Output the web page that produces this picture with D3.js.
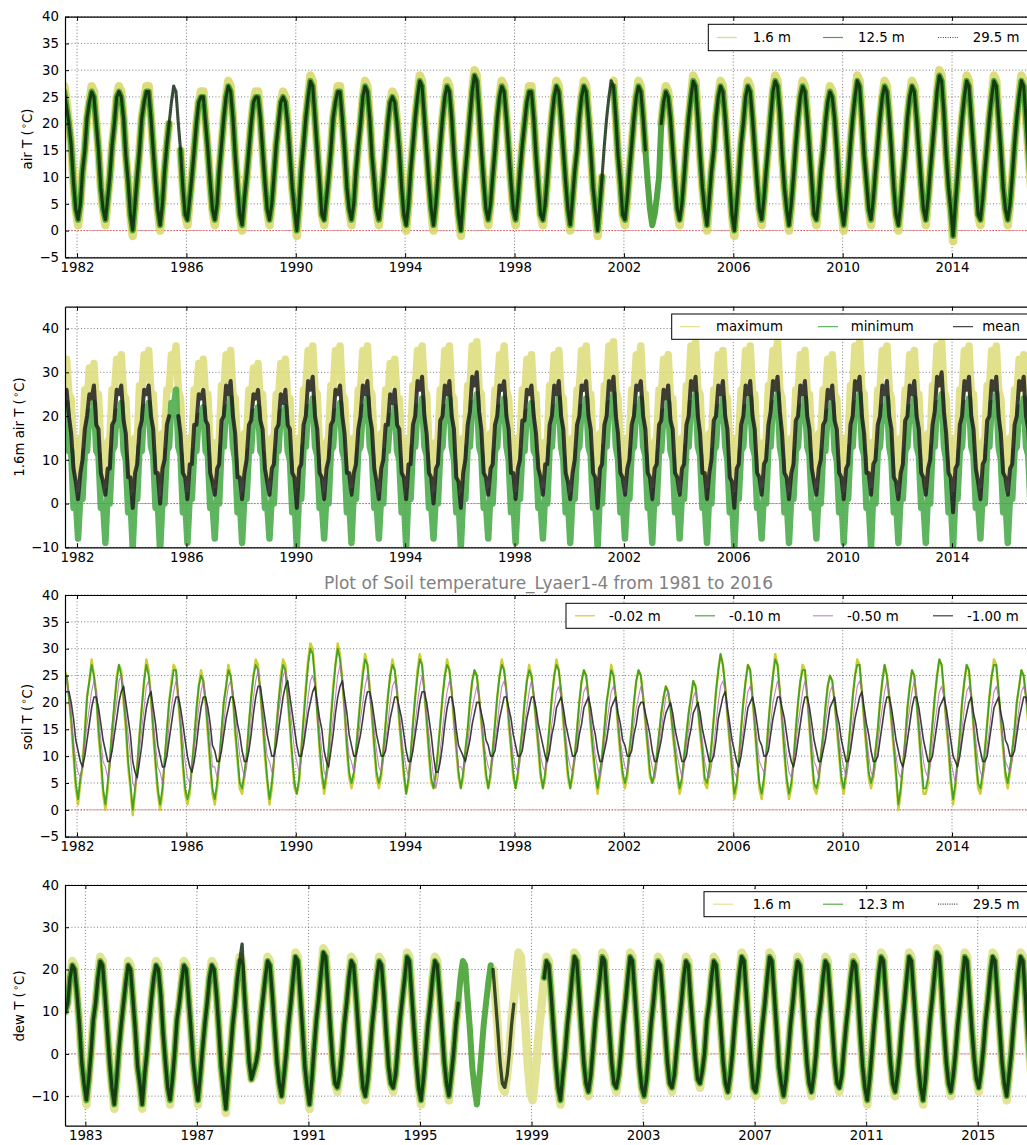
<!DOCTYPE html>
<html>
<head>
<meta charset="utf-8">
<script src="https://cdn.jsdelivr.net/npm/d3@7"></script>
<style>
  body { margin: 0; background: #fff; }
  svg { display: block; font-family: "DejaVu Sans", sans-serif; }
</style>
</head>
<body>
<svg id="chart" width="1027" height="1145"></svg>
<script>
// ---------------------------------------------------------------------------
// Monthly station series, one row per calendar year.
// Panels 1-3 start in July 1981, panel 4 (dew point) starts in April 1982.
// null marks months with no record.
// ---------------------------------------------------------------------------

// Panel 1: air temperature at three tower levels (deg C)
const air16 = [
  [27, 24, 20, 16, 9, 4],
  [1, 5, 11, 15, 21, 24, 27, 26, 20, 15, 8, 4],
  [1, 6, 10, 16, 20, 25, 27, 26, 21, 14, 9, 3],
  [-1, 5, 10, 15, 21, 24, 27, 27, 21, 15, 9, 4],
  [0, 5, 11, 16, 20, null, null, null, null, 15, 8, 3],
  [1, 6, 10, 15, 20, 24, 26, 26, 20, 15, 9, 4],
  [1, 5, 11, 16, 21, 25, 28, 27, 21, 14, 8, 3],
  [0, 6, 10, 15, 20, 24, 26, 26, 21, 15, 9, 4],
  [1, 5, 10, 16, 20, 24, 26, 25, 20, 14, 8, 4],
  [-1, 5, 11, 16, 21, 25, 29, 28, 21, 15, 9, 3],
  [1, 6, 10, 15, 21, 24, 27, 27, 21, 15, 8, 4],
  [1, 5, 11, 16, 20, 25, 28, 27, 21, 14, 9, 4],
  [1, 6, 10, 15, 20, 24, 26, 25, 20, 15, 8, 3],
  [0, 5, 11, 16, 21, 25, 29, 28, 21, 15, 9, 4],
  [0, 5, 10, 16, 21, 25, 28, 27, 21, 14, 8, 3],
  [-1, 6, 11, 16, 21, 26, 30, 29, 22, 15, 9, 4],
  [1, 5, 10, 15, 21, 25, 28, 27, 21, 15, 9, 4],
  [1, 6, 11, 16, 20, 24, 27, 27, 21, 14, 8, 3],
  [1, 5, 10, 16, 21, 25, 28, 27, 21, 15, 9, 4],
  [0, 6, 11, 15, 21, 25, 28, 27, 21, 15, 8, 4],
  [-1, 5, 10, null, null, null, null, 28, 21, 14, 9, 3],
  [1, 6, 11, 16, 21, 25, 28, 27, 21, 15, null, null],
  [null, null, null, null, 20, 24, 27, 26, 21, 15, 9, 4],
  [1, 5, 10, 16, 21, 25, 29, 28, 21, 14, 8, 4],
  [0, 6, 11, 15, 21, 25, 28, 27, 21, 15, 9, 3],
  [-1, 5, 10, 16, 20, 25, 28, 27, 21, 15, 9, 4],
  [1, 6, 11, 16, 21, 26, 29, 28, 22, 14, 8, 4],
  [0, 5, 10, 16, 21, 25, 28, 27, 21, 15, 9, 3],
  [1, 6, 11, 15, 20, 24, 27, 26, 21, 15, 8, 4],
  [0, 5, 10, 16, 21, 25, 29, 28, 21, 14, 9, 4],
  [1, 6, 11, 16, 21, 25, 28, 27, 21, 15, 8, 3],
  [0, 5, 10, 15, 21, 25, 28, 27, 21, 15, 9, 4],
  [1, 6, 11, 16, 21, 26, 30, 29, 22, 14, 8, 4],
  [-2, 5, 10, 16, 21, 25, 29, 28, 21, 15, 9, 3],
  [1, 6, 11, 16, 21, 25, 29, 28, 21, 15, 8, 4],
  [1, 5, 10, 16, 21, 25, 29, 28, 21, 15, 9, 4]
];
const air125 = [
  [26, 23, 20, 16, 9, 4],
  [2, 5, 11, 15, 21, 24, 26, 25, 20, 15, 8, 4],
  [2, 6, 10, 16, 20, 25, 26, 25, 21, 14, 9, 3],
  [0, 5, 10, 15, 21, 24, 26, 26, 21, 15, 9, 4],
  [1, 5, 11, 16, 20, null, null, null, null, 15, 8, 3],
  [2, 6, 10, 15, 20, 24, 25, 25, 20, 15, 9, 4],
  [2, 5, 11, 16, 21, 25, 27, 26, 21, 14, 8, 3],
  [1, 6, 10, 15, 20, 24, 25, 25, 21, 15, 9, 4],
  [2, 5, 10, 16, 20, 24, 25, 24, 20, 14, 8, 4],
  [0, 5, 11, 16, 21, 25, 28, 27, 21, 15, 9, 3],
  [2, 6, 10, 15, 21, 24, 26, 26, 21, 15, 8, 4],
  [2, 5, 11, 16, 20, 25, 27, 26, 21, 14, 9, 4],
  [2, 6, 10, 15, 20, 24, 25, 24, 20, 15, 8, 3],
  [1, 5, 11, 16, 21, 25, 28, 27, 21, 15, 9, 4],
  [1, 5, 10, 16, 21, 25, 27, 26, 21, 14, 8, 3],
  [0, 6, 11, 16, 21, 26, 29, 28, 22, 15, 9, 4],
  [2, 5, 10, 15, 21, 25, 27, 26, 21, 15, 9, 4],
  [2, 6, 11, 16, 20, 24, 26, 26, 21, 14, 8, 3],
  [2, 5, 10, 16, 21, 25, 27, 26, 21, 15, 9, 4],
  [1, 6, 11, 15, 21, 25, 27, 26, 21, 15, 8, 4],
  [0, 5, 10, null, null, null, null, 27, 21, 14, 9, 3],
  [2, 6, 11, 16, 21, 25, 27, 26, 21, 15, 9, 4],
  [1, 3, 6, 10, 20, 24, 26, 25, 21, 15, 9, 4],
  [2, 5, 10, 16, 21, 25, 28, 27, 21, 14, 8, 4],
  [1, 6, 11, 15, 21, 25, 27, 26, 21, 15, 9, 3],
  [0, 5, 10, 16, 20, 25, 27, 26, 21, 15, 9, 4],
  [2, 6, 11, 16, 21, 26, 28, 27, 22, 14, 8, 4],
  [1, 5, 10, 16, 21, 25, 27, 26, 21, 15, 9, 3],
  [2, 6, 11, 15, 20, 24, 26, 25, 21, 15, 8, 4],
  [1, 5, 10, 16, 21, 25, 28, 27, 21, 14, 9, 4],
  [2, 6, 11, 16, 21, 25, 27, 26, 21, 15, 8, 3],
  [1, 5, 10, 15, 21, 25, 27, 26, 21, 15, 9, 4],
  [2, 6, 11, 16, 21, 26, 29, 28, 22, 14, 8, 4],
  [-1, 5, 10, 16, 21, 25, 28, 27, 21, 15, 9, 3],
  [2, 6, 11, 16, 21, 25, 28, 27, 21, 15, 8, 4],
  [2, 5, 10, 16, 21, 25, 28, 27, 21, 15, 9, 4]
];
const air295 = [
  [26, 23, 20, 16, 9, 4],
  [2, 5, 11, 15, 21, 24, 26, 25, 20, 15, 8, 4],
  [2, 6, 10, 16, 20, 25, 26, 25, 21, 14, 9, 3],
  [0, 5, 10, 15, 21, 24, 26, 26, 21, 15, 9, 4],
  [1, 5, 11, 16, 20, 24, 27, 26, 20, 15, 8, 3],
  [2, 6, 10, 15, 20, 24, 25, 25, 20, 15, 9, 4],
  [2, 5, 11, 16, 21, 25, 27, 26, 21, 14, 8, 3],
  [1, 6, 10, 15, 20, 24, 25, 25, 21, 15, 9, 4],
  [2, 5, 10, 16, 20, 24, 25, 24, 20, 14, 8, 4],
  [0, 5, 11, 16, 21, 25, 28, 27, 21, 15, 9, 3],
  [2, 6, 10, 15, 21, 24, 26, 26, 21, 15, 8, 4],
  [2, 5, 11, 16, 20, 25, 27, 26, 21, 14, 9, 4],
  [2, 6, 10, 15, 20, 24, 25, 24, 20, 15, 8, 3],
  [1, 5, 11, 16, 21, 25, 28, 27, 21, 15, 9, 4],
  [1, 5, 10, 16, 21, 25, 27, 26, 21, 14, 8, 3],
  [0, 6, 11, 16, 21, 26, 29, 28, 22, 15, 9, 4],
  [2, 5, 10, 15, 21, 25, 27, 26, 21, 15, 9, 4],
  [2, 6, 11, 16, 20, 24, 26, 26, 21, 14, 8, 3],
  [2, 5, 10, 16, 21, 25, 27, 26, 21, 15, 9, 4],
  [1, 6, 11, 15, 21, 25, 27, 26, 21, 15, 8, 4],
  [0, 5, 10, 16, 21, 25, 28, 27, 21, 14, 9, 3],
  [2, 6, 11, 16, 21, 25, 27, 26, 21, 15, null, null],
  [null, null, null, null, 20, 24, 26, 25, 21, 15, 9, 4],
  [2, 5, 10, 16, 21, 25, 28, 27, 21, 14, 8, 4],
  [1, 6, 11, 15, 21, 25, 27, 26, 21, 15, 9, 3],
  [0, 5, 10, 16, 20, 25, 27, 26, 21, 15, 9, 4],
  [2, 6, 11, 16, 21, 26, 28, 27, 22, 14, 8, 4],
  [1, 5, 10, 16, 21, 25, 27, 26, 21, 15, 9, 3],
  [2, 6, 11, 15, 20, 24, 26, 25, 21, 15, 8, 4],
  [1, 5, 10, 16, 21, 25, 28, 27, 21, 14, 9, 4],
  [2, 6, 11, 16, 21, 25, 27, 26, 21, 15, 8, 3],
  [1, 5, 10, 15, 21, 25, 27, 26, 21, 15, 9, 4],
  [2, 6, 11, 16, 21, 26, 29, 28, 22, 14, 8, 4],
  [-1, 5, 10, 16, 21, 25, 28, 27, 21, 15, 9, 3],
  [2, 6, 11, 16, 21, 25, 28, 27, 21, 15, 8, 4],
  [2, 5, 10, 16, 21, 25, 28, 27, 21, 15, 9, 4]
];

// Panel 2: daily maximum, minimum and mean air temperature at 1.6 m (deg C)
const airMax = [
  [30, 33, 25, 24, 12, 13],
  [6, 15, 14, 26, 23, 31, 27, 32, 23, 25, 12, 13],
  [5, 14, 15, 26, 25, 33, 29, 34, 25, 24, 12, 14],
  [4, 15, 14, 27, 25, 34, 30, 35, 25, 25, 13, 13],
  [5, 16, 14, 26, 26, 34, 31, 36, 26, 24, 12, 13],
  [6, 15, 13, 26, 24, 32, 28, 33, 24, 25, 12, 14],
  [5, 14, 14, 27, 25, 34, 30, 35, 25, 24, 13, 13],
  [6, 16, 15, 26, 23, 31, 27, 32, 23, 25, 12, 13],
  [6, 15, 14, 25, 24, 32, 28, 33, 24, 24, 12, 14],
  [4, 15, 14, 26, 26, 35, 31, 36, 26, 25, 12, 13],
  [6, 14, 15, 27, 25, 35, 31, 36, 25, 24, 13, 13],
  [5, 15, 14, 26, 26, 35, 31, 36, 26, 25, 12, 14],
  [6, 16, 14, 26, 24, 32, 28, 33, 24, 24, 12, 13],
  [4, 15, 15, 27, 26, 35, 31, 36, 26, 25, 13, 13],
  [5, 14, 14, 26, 25, 35, 31, 36, 25, 24, 12, 14],
  [4, 15, 14, 27, 26, 36, 32, 37, 26, 25, 12, 13],
  [6, 16, 15, 26, 25, 34, 31, 36, 26, 24, 13, 13],
  [5, 15, 14, 26, 24, 33, 29, 34, 24, 25, 12, 14],
  [6, 14, 14, 27, 25, 34, 30, 35, 25, 24, 12, 13],
  [5, 15, 15, 26, 26, 35, 31, 36, 25, 25, 13, 13],
  [4, 16, 14, 27, 26, 36, 32, 37, 26, 24, 12, 14],
  [6, 15, 14, 26, 25, 34, 31, 36, 25, 25, 12, 13],
  [5, 14, 15, 26, 24, 33, 29, 34, 24, 24, 13, 13],
  [6, 15, 14, 27, 26, 36, 32, 37, 26, 25, 12, 14],
  [5, 16, 14, 26, 25, 34, 30, 35, 25, 24, 12, 13],
  [4, 15, 15, 26, 25, 35, 31, 36, 25, 25, 13, 13],
  [6, 14, 14, 27, 26, 35, 32, 37, 26, 24, 12, 14],
  [5, 15, 14, 26, 25, 34, 30, 35, 25, 25, 12, 13],
  [6, 16, 15, 26, 24, 33, 29, 34, 25, 24, 13, 13],
  [5, 15, 14, 27, 26, 36, 32, 37, 26, 25, 12, 14],
  [6, 14, 14, 26, 26, 35, 31, 36, 26, 24, 12, 13],
  [5, 15, 15, 26, 25, 34, 30, 35, 25, 25, 13, 13],
  [4, 16, 14, 27, 26, 36, 32, 37, 26, 24, 12, 14],
  [6, 15, 14, 26, 25, 35, 31, 36, 25, 25, 12, 13],
  [5, 14, 15, 27, 26, 35, 31, 36, 26, 24, 13, 13],
  [6, 15, 14, 26, 24, 33, 29, 34, 25, 25, 12, 14]
];
const airMin = [
  [19, 23, 12, 12, -1, 1],
  [-8, 2, 1, 12, 12, 21, 18, 23, 12, 11, -1, 0],
  [-9, 3, 0, 12, 13, 21, 18, 23, 12, 10, -2, 1],
  [-10, 2, 1, 13, 12, 22, 19, 23, 13, 11, -1, 0],
  [-11, 1, 0, 12, 13, 23, 22, 26, 13, 11, -2, 1],
  [-9, 2, 1, 12, 12, 20, 18, 22, 12, 11, -1, 0],
  [-8, 3, 0, 13, 13, 22, 19, 24, 13, 10, -2, 1],
  [-9, 2, 1, 12, 12, 21, 18, 22, 12, 11, -1, 0],
  [-8, 2, 0, 12, 12, 21, 18, 22, 12, 10, -2, 1],
  [-10, 3, 1, 13, 13, 22, 20, 24, 13, 11, -1, 0],
  [-8, 2, 0, 12, 13, 21, 19, 23, 12, 10, -2, 1],
  [-9, 3, 1, 12, 13, 22, 19, 24, 13, 11, -1, 0],
  [-8, 2, 0, 12, 12, 20, 18, 22, 12, 10, -2, 1],
  [-10, 3, 1, 13, 13, 22, 20, 24, 13, 11, -1, 0],
  [-8, 2, 0, 12, 13, 22, 19, 24, 13, 10, -2, 1],
  [-10, 2, 1, 13, 13, 23, 20, 25, 13, 11, -1, 0],
  [-8, 3, 0, 12, 13, 22, 19, 24, 13, 10, -2, 1],
  [-9, 2, 1, 12, 12, 21, 19, 23, 12, 11, -1, 0],
  [-8, 3, 0, 13, 13, 22, 19, 24, 13, 10, -2, 1],
  [-9, 2, 1, 12, 13, 22, 20, 24, 13, 11, -1, 0],
  [-10, 3, 0, 13, 13, 23, 20, 25, 13, 10, -2, 1],
  [-8, 2, 1, 12, 13, 22, 19, 24, 13, 11, -1, 0],
  [-9, 3, 0, 12, 12, 21, 18, 23, 12, 10, -2, 1],
  [-8, 2, 1, 13, 13, 23, 20, 25, 13, 11, -1, 0],
  [-9, 3, 0, 12, 13, 22, 19, 24, 13, 10, -2, 1],
  [-10, 2, 1, 12, 13, 22, 19, 24, 13, 11, -1, 0],
  [-8, 3, 0, 13, 13, 23, 20, 25, 13, 10, -2, 1],
  [-9, 2, 1, 12, 13, 22, 19, 24, 13, 11, -1, 0],
  [-8, 3, 0, 12, 12, 21, 19, 23, 12, 10, -2, 1],
  [-9, 2, 1, 13, 13, 23, 20, 25, 13, 11, -1, 0],
  [-10, 3, 0, 12, 13, 22, 19, 24, 13, 10, -2, 1],
  [-9, 2, 1, 12, 13, 22, 19, 24, 13, 11, -1, 0],
  [-9, 3, 0, 13, 13, 23, 20, 25, 13, 10, -2, 1],
  [-10, 2, 1, 12, 13, 23, 20, 24, 13, 11, -1, 0],
  [-8, 3, 0, 13, 13, 23, 20, 25, 13, 10, -2, 1],
  [-9, 2, 1, 12, 13, 22, 19, 24, 13, 11, -1, 0]
];
const airMean = [
  [25, 26, 20, 16, 8, 5],
  [1, 7, 10, 17, 20, 25, 24, 27, 18, 17, 7, 5],
  [2, 8, 8, 18, 19, 26, 25, 27, 19, 16, 6, 6],
  [-1, 7, 9, 17, 19, 26, 25, 27, 20, 17, 7, 7],
  [0, 8, 10, 18, 20, null, null, null, 20, 16, 7, 6],
  [1, 9, 9, 18, 18, 25, 24, 26, 19, 18, 7, 5],
  [2, 8, 9, 19, 20, 27, 25, 28, 20, 16, 6, 6],
  [1, 7, 10, 18, 19, 25, 24, 26, 19, 17, 8, 5],
  [2, 8, 9, 17, 18, 25, 23, 26, 18, 17, 7, 6],
  [-1, 8, 9, 18, 20, 28, 26, 29, 20, 17, 7, 6],
  [1, 8, 10, 18, 19, 26, 25, 27, 20, 16, 7, 7],
  [2, 7, 9, 17, 20, 27, 25, 28, 20, 17, 8, 5],
  [1, 8, 10, 18, 18, 25, 23, 26, 18, 17, 7, 6],
  [1, 9, 9, 18, 20, 28, 26, 29, 20, 16, 7, 6],
  [0, 8, 9, 19, 20, 27, 25, 28, 20, 17, 6, 5],
  [-1, 7, 10, 18, 21, 29, 27, 30, 21, 17, 7, 6],
  [2, 8, 9, 18, 20, 27, 26, 28, 20, 17, 7, 7],
  [1, 8, 10, 19, 19, 26, 25, 27, 20, 16, 8, 6],
  [2, 9, 9, 18, 20, 27, 25, 28, 20, 17, 7, 5],
  [1, 7, 10, 18, 20, 27, 26, 28, 20, 17, 7, 6],
  [-1, 8, 9, 18, 20, 28, 26, 29, 20, 16, 7, 6],
  [2, 8, 10, 18, 20, 27, 26, 28, 20, 17, 7, 6],
  [1, 8, 9, 18, 19, 26, 24, 27, 19, 17, 7, 6],
  [2, 8, 9, 18, 20, 28, 26, 29, 20, 16, 7, 7],
  [1, 7, 10, 19, 20, 27, 25, 28, 20, 17, 6, 5],
  [-1, 8, 9, 18, 20, 27, 25, 28, 20, 17, 7, 6],
  [2, 9, 10, 18, 21, 28, 26, 29, 21, 16, 7, 6],
  [1, 7, 9, 19, 20, 27, 25, 28, 20, 17, 8, 5],
  [2, 8, 10, 18, 19, 26, 24, 27, 19, 17, 7, 6],
  [1, 8, 9, 18, 20, 28, 26, 29, 20, 16, 7, 7],
  [2, 9, 10, 18, 20, 27, 25, 28, 20, 17, 6, 5],
  [1, 7, 9, 19, 20, 27, 25, 28, 20, 17, 7, 6],
  [2, 8, 10, 18, 21, 29, 27, 30, 21, 16, 7, 6],
  [-2, 8, 9, 18, 20, 28, 26, 29, 20, 17, 8, 5],
  [1, 9, 10, 19, 20, 28, 26, 29, 20, 16, 7, 6],
  [2, 8, 9, 18, 20, 28, 26, 29, 20, 17, 7, 6]
];

// Panel 3: soil temperature at four depths (deg C)
const soil002 = [
  [26, 25, 21, 16, 10, 4],
  [1, 5, 8, 15, 21, 24, 28, 25, 22, 14, 9, 3],
  [0, 4, 9, 15, 19, 25, 27, 26, 20, 15, 8, 4],
  [-1, 3, 8, 14, 19, 24, 28, 26, 21, 14, 8, 3],
  [0, 3, 9, 14, 20, 24, 27, 26, 20, 15, 8, 3],
  [1, 3, 8, 13, 18, 23, 26, 24, 20, 14, 8, 3],
  [1, 4, 9, 14, 20, 23, 27, 25, 21, 14, 9, 4],
  [3, 6, 10, 16, 21, 25, 28, 27, 22, 16, 10, 5],
  [1, 4, 9, 15, 20, 25, 28, 27, 21, 15, 9, 4],
  [3, 5, 11, 17, 23, 28, 31, 30, 25, 18, 11, 6],
  [3, 6, 11, 17, 23, 27, 31, 29, 24, 18, 11, 6],
  [4, 6, 11, 16, 21, 26, 29, 27, 23, 17, 11, 6],
  [4, 6, 11, 16, 21, 25, 28, 26, 22, 16, 11, 6],
  [3, 5, 10, 16, 21, 26, 29, 27, 22, 16, 10, 5],
  [4, 6, 11, 16, 21, 25, 28, 26, 22, 16, 11, 6],
  [4, 6, 11, 15, 20, 24, 26, 25, 21, 16, 11, 6],
  [4, 6, 11, 16, 21, 25, 28, 26, 22, 16, 11, 6],
  [4, 6, 11, 15, 20, 24, 27, 25, 21, 16, 11, 6],
  [4, 6, 11, 16, 21, 25, 28, 26, 22, 16, 11, 6],
  [4, 6, 10, 15, 20, 24, 26, 25, 21, 15, 10, 6],
  [3, 6, 10, 15, 20, 23, 27, 25, 21, 15, 10, 6],
  [4, 6, 11, 15, 20, 24, 26, 25, 21, 16, 11, 6],
  [5, 6, 10, 14, 18, 21, 23, 22, 19, 14, 10, 6],
  [3, 5, 10, 14, 18, 21, 24, 23, 19, 14, 10, 5],
  [4, 7, 12, 17, 22, 26, 29, 27, 23, 17, 12, 7],
  [2, 4, 9, 15, 20, 24, 27, 26, 21, 15, 9, 4],
  [2, 5, 10, 16, 21, 25, 29, 27, 22, 16, 10, 5],
  [2, 4, 9, 15, 20, 24, 27, 26, 21, 15, 9, 4],
  [3, 5, 10, 14, 19, 23, 25, 24, 20, 15, 10, 5],
  [3, 6, 11, 16, 21, 25, 28, 27, 22, 16, 11, 6],
  [4, 6, 11, 15, 20, 24, 27, 25, 21, 16, 11, 6],
  [0, 3, 8, 13, 19, 23, 26, 25, 20, 14, 8, 3],
  [3, 5, 11, 16, 21, 25, 28, 27, 22, 16, 11, 5],
  [1, 4, 9, 14, 20, 24, 27, 26, 21, 15, 9, 4],
  [3, 6, 11, 16, 21, 25, 28, 27, 22, 16, 11, 6],
  [4, 7, 11, 15, 20, 23, 26, 25, 21, 16, 11, 7]
];
const soil010 = [
  [25, 25, 21, 17, 11, 5],
  [2, 6, 8, 14, 21, 24, 27, 25, 21, 15, 10, 4],
  [1, 5, 9, 15, 20, 24, 27, 25, 21, 16, 9, 5],
  [0, 4, 8, 14, 19, 24, 27, 25, 21, 15, 9, 4],
  [1, 4, 9, 15, 20, 23, 26, 26, 21, 16, 9, 4],
  [2, 4, 8, 13, 19, 23, 25, 24, 20, 15, 9, 4],
  [2, 5, 9, 15, 20, 23, 26, 25, 21, 15, 10, 5],
  [4, 7, 10, 16, 21, 25, 27, 26, 22, 17, 11, 6],
  [2, 5, 9, 15, 20, 24, 27, 26, 21, 16, 10, 5],
  [3, 6, 11, 17, 22, 27, 30, 29, 24, 18, 12, 7],
  [4, 7, 11, 17, 22, 27, 30, 28, 24, 19, 12, 7],
  [5, 7, 11, 16, 21, 25, 28, 27, 22, 18, 12, 7],
  [5, 7, 11, 16, 21, 25, 27, 26, 22, 17, 12, 7],
  [3, 6, 10, 16, 21, 25, 28, 27, 22, 17, 11, 6],
  [4, 7, 11, 16, 21, 25, 27, 26, 22, 17, 12, 7],
  [4, 7, 11, 15, 20, 24, 26, 25, 21, 17, 12, 7],
  [4, 7, 11, 16, 21, 25, 27, 26, 22, 17, 12, 7],
  [4, 7, 11, 15, 20, 24, 26, 25, 21, 17, 12, 7],
  [4, 7, 11, 16, 21, 25, 27, 26, 22, 17, 12, 7],
  [4, 7, 10, 15, 20, 24, 26, 25, 21, 16, 11, 7],
  [4, 7, 10, 15, 20, 23, 26, 25, 21, 16, 11, 7],
  [5, 7, 11, 15, 20, 24, 26, 25, 21, 17, 12, 7],
  [5, 7, 10, 14, 18, 21, 23, 22, 19, 15, 11, 7],
  [4, 6, 10, 14, 18, 21, 24, 23, 19, 15, 11, 6],
  [5, 8, 12, 17, 22, 26, 29, 27, 23, 18, 13, 8],
  [3, 5, 9, 15, 20, 24, 27, 26, 21, 16, 10, 5],
  [3, 6, 10, 16, 21, 25, 28, 27, 22, 17, 11, 6],
  [3, 5, 9, 15, 20, 24, 26, 26, 21, 16, 10, 5],
  [4, 6, 10, 14, 19, 23, 25, 24, 20, 16, 11, 6],
  [4, 7, 11, 16, 21, 25, 27, 27, 22, 17, 12, 7],
  [5, 7, 11, 15, 20, 24, 27, 25, 21, 17, 12, 7],
  [1, 4, 8, 13, 19, 23, 26, 25, 20, 15, 9, 4],
  [4, 6, 11, 16, 21, 25, 28, 27, 22, 17, 12, 6],
  [2, 5, 9, 14, 20, 24, 27, 26, 21, 16, 10, 5],
  [4, 7, 11, 16, 21, 25, 27, 27, 22, 17, 12, 7],
  [5, 8, 11, 15, 20, 23, 26, 25, 21, 17, 12, 8]
];
const soil050 = [
  [23, 24, 22, 18, 13, 9],
  [7, 6, 8, 12, 16, 19, 22, 24, 22, 18, 13, 9],
  [8, 6, 8, 12, 17, 20, 24, 25, 23, 18, 14, 10],
  [5, 4, 6, 11, 15, 19, 23, 24, 22, 17, 12, 8],
  [7, 5, 8, 11, 16, 19, 22, 24, 22, 17, 13, 9],
  [6, 5, 7, 11, 15, 19, 22, 24, 21, 17, 13, 8],
  [8, 6, 8, 12, 16, 20, 23, 24, 22, 18, 14, 10],
  [8, 6, 8, 12, 17, 21, 24, 26, 23, 19, 14, 10],
  [9, 7, 9, 13, 18, 21, 25, 26, 24, 19, 15, 11],
  [9, 7, 9, 13, 17, 21, 24, 25, 23, 19, 15, 11],
  [7, 6, 8, 13, 17, 21, 25, 27, 24, 19, 14, 10],
  [9, 7, 9, 13, 17, 20, 23, 25, 22, 18, 15, 11],
  [8, 7, 9, 13, 16, 20, 23, 24, 22, 18, 14, 10],
  [8, 6, 8, 12, 16, 20, 23, 25, 22, 18, 14, 10],
  [6, 4, 6, 11, 15, 19, 22, 24, 22, 17, 12, 8],
  [8, 7, 9, 12, 16, 19, 21, 23, 21, 17, 13, 10],
  [8, 7, 9, 13, 16, 20, 23, 24, 22, 18, 14, 10],
  [8, 7, 9, 12, 16, 19, 22, 24, 22, 18, 14, 10],
  [8, 7, 9, 12, 16, 19, 22, 23, 21, 18, 14, 10],
  [8, 7, 9, 12, 16, 19, 22, 23, 21, 17, 14, 10],
  [8, 6, 8, 12, 16, 19, 22, 23, 21, 17, 13, 10],
  [8, 7, 9, 12, 16, 19, 21, 23, 21, 17, 14, 10],
  [8, 6, 8, 12, 15, 18, 21, 22, 20, 17, 13, 10],
  [8, 6, 8, 12, 15, 18, 21, 22, 20, 17, 13, 9],
  [7, 6, 8, 12, 16, 20, 23, 24, 22, 18, 14, 10],
  [7, 6, 8, 12, 15, 19, 22, 23, 21, 17, 13, 9],
  [8, 7, 9, 13, 16, 20, 22, 24, 22, 18, 14, 10],
  [7, 6, 8, 12, 16, 19, 22, 24, 22, 17, 13, 9],
  [8, 6, 8, 12, 16, 19, 22, 23, 21, 17, 13, 10],
  [8, 6, 8, 12, 16, 20, 23, 24, 22, 18, 14, 10],
  [7, 6, 8, 12, 16, 19, 22, 24, 22, 18, 13, 10],
  [7, 6, 8, 12, 16, 19, 22, 24, 22, 17, 13, 9],
  [7, 6, 8, 12, 16, 19, 22, 23, 21, 17, 13, 9],
  [7, 5, 8, 11, 15, 19, 22, 23, 21, 17, 13, 9],
  [7, 6, 8, 12, 15, 19, 22, 23, 21, 17, 13, 9],
  [8, 7, 9, 12, 16, 19, 22, 23, 21, 18, 14, 10]
];
const soil100 = [
  [22, 22, 22, 20, 17, 13],
  [11, 9, 8, 10, 13, 16, 19, 21, 21, 19, 16, 13],
  [11, 9, 9, 11, 14, 17, 20, 22, 23, 20, 17, 14],
  [9, 7, 6, 9, 12, 16, 19, 21, 22, 19, 16, 12],
  [10, 8, 8, 10, 13, 16, 19, 21, 21, 19, 16, 13],
  [10, 8, 7, 9, 12, 16, 19, 21, 21, 19, 16, 12],
  [11, 9, 9, 11, 14, 17, 19, 21, 21, 19, 16, 14],
  [11, 9, 9, 11, 14, 18, 21, 23, 23, 20, 17, 14],
  [12, 10, 10, 12, 15, 18, 21, 23, 24, 21, 18, 15],
  [12, 10, 10, 12, 15, 18, 20, 22, 23, 20, 17, 15],
  [11, 9, 8, 11, 14, 18, 21, 23, 24, 21, 18, 14],
  [12, 10, 10, 12, 14, 17, 20, 22, 22, 20, 17, 14],
  [12, 10, 10, 11, 14, 17, 19, 21, 21, 19, 17, 14],
  [11, 9, 9, 11, 14, 17, 20, 22, 22, 20, 17, 14],
  [10, 7, 7, 9, 12, 16, 19, 21, 21, 19, 15, 12],
  [11, 10, 9, 11, 13, 16, 18, 20, 20, 18, 16, 13],
  [12, 10, 10, 11, 14, 17, 19, 21, 21, 19, 17, 14],
  [12, 10, 10, 11, 14, 17, 19, 21, 21, 19, 16, 14],
  [12, 10, 9, 11, 14, 16, 19, 20, 21, 19, 16, 14],
  [12, 10, 10, 11, 14, 16, 19, 20, 21, 19, 16, 14],
  [11, 9, 9, 11, 13, 16, 19, 20, 21, 18, 16, 13],
  [12, 10, 10, 11, 14, 16, 19, 20, 20, 18, 16, 14],
  [11, 9, 9, 11, 13, 16, 18, 19, 20, 18, 15, 13],
  [11, 9, 9, 10, 13, 15, 18, 19, 20, 18, 15, 13],
  [11, 9, 9, 10, 13, 17, 19, 21, 22, 19, 16, 13],
  [11, 9, 8, 10, 13, 16, 19, 20, 21, 19, 16, 13],
  [12, 10, 10, 11, 14, 17, 19, 21, 21, 19, 17, 14],
  [11, 9, 8, 10, 13, 16, 19, 21, 21, 19, 16, 13],
  [11, 9, 9, 11, 13, 16, 19, 20, 21, 18, 16, 13],
  [11, 9, 9, 11, 14, 17, 19, 21, 22, 19, 16, 14],
  [11, 9, 9, 10, 13, 16, 19, 21, 21, 19, 16, 13],
  [11, 9, 8, 10, 13, 16, 19, 21, 21, 19, 16, 13],
  [11, 9, 9, 10, 13, 16, 19, 20, 21, 19, 16, 13],
  [10, 9, 8, 10, 13, 16, 18, 20, 21, 18, 16, 13],
  [11, 9, 9, 10, 13, 16, 19, 20, 21, 18, 16, 13],
  [12, 10, 10, 11, 14, 17, 19, 21, 21, 19, 16, 14]
];

// Panel 4: dew point temperature at three tower levels (deg C)
const dew16 = [
  [10, 12, 18, 22, 21, 14, 7, -2, -7],
  [-12, -6, 0, 8, 12, 18, 23, 22, 14, 6, -2, -8],
  [-13, -6, 1, 7, 12, 17, 22, 21, 13, 6, -3, -7],
  [-13, -5, 0, 7, 13, 18, 22, 21, 14, 5, -2, -8],
  [-12, -6, 0, 8, 12, 17, 22, 21, 13, 6, -2, -7],
  [-12, -5, 1, 7, 12, 18, 22, 21, 14, 6, -3, -8],
  [-14, -6, 0, 7, 12, 18, 23, 22, 14, 6, -2, -6],
  [-5, -2, 1, 8, 13, 18, 23, 22, 14, 6, -2, -7],
  [-11, -5, 0, 7, 12, 18, 24, 23, 14, 6, -3, -8],
  [-13, -6, 1, 8, 13, 19, 25, 24, 15, 6, -2, -7],
  [-9, -5, 0, 7, 12, 18, 23, 22, 14, 6, -2, -8],
  [-11, -6, 0, 7, 12, 18, 23, 22, 14, 5, -3, -7],
  [-9, -5, 1, 8, 13, 18, 24, 23, 14, 6, -2, -8],
  [-12, -6, 0, 7, 12, 18, 23, 22, 14, 6, -2, -7],
  [-11, -5, 0, 7, 12, null, null, null, null, null, null, null],
  [null, null, null, null, null, null, null, 20, 13, 6, -3, -8],
  [-9, -5, 0, 8, 13, 19, 24, 23, 14, 6, -3, -9],
  [-11, -6, 0, 7, 12, 18, 23, 22, 14, 6, -2, -8],
  [-12, -5, 0, 7, 12, 18, 24, 23, 14, 6, -2, -7],
  [-10, -5, 1, 8, 13, 18, 24, 23, 14, 6, -2, -7],
  [-9, -5, 0, 7, 12, 18, 24, 23, 14, 6, -3, -8],
  [-11, -6, 0, 7, 12, 18, 23, 22, 14, 6, -2, -7],
  [-9, -5, 1, 7, 12, 18, 23, 22, 13, 6, -1, -6],
  [-8, -4, 0, 8, 12, 18, 23, 22, 14, 6, -2, -7],
  [-10, -5, 0, 7, 13, 19, 24, 23, 14, 6, -2, -8],
  [-10, -5, 1, 7, 12, 18, 24, 23, 14, 6, -3, -7],
  [-11, -6, 0, 7, 12, 18, 23, 22, 14, 6, -2, -7],
  [-10, -5, 0, 8, 12, 18, 23, 22, 14, 6, -2, -7],
  [-9, -5, 1, 7, 12, 18, 23, 22, 14, 5, -3, -8],
  [-12, -6, 0, 7, 13, 19, 24, 23, 14, 6, -2, -7],
  [-10, -5, 0, 7, 12, 18, 24, 23, 14, 6, -3, -8],
  [-12, -6, 1, 8, 13, 19, 25, 24, 15, 6, -2, -7],
  [-10, -5, 0, 7, 12, 18, 24, 23, 14, 6, -1, -6],
  [-9, -4, 1, 8, 13, 19, 24, 23, 14, 6, -2, -7],
  [-11, -5, 0, 7, 13, 19, 24, 23, 14, 6, -2, -7]
];
const dew123 = [
  [10, 12, 18, 21, 20, 14, 7, -2, -7],
  [-11, -6, 0, 8, 12, 18, 22, 21, 14, 6, -2, -8],
  [-12, -6, 1, 7, 12, 17, 21, 20, 13, 6, -3, -7],
  [-12, -5, 0, 7, 13, 18, 21, 20, 14, 5, -2, -8],
  [-11, -6, 0, 8, 12, 17, 21, 20, 13, 6, -2, -7],
  [-11, -5, 1, 7, 12, 18, 21, 20, 14, 6, -3, -8],
  [-13, -6, 0, 7, 12, 18, 22, 21, 14, 6, -2, -6],
  [-4, -2, 1, 8, 13, 18, 22, 21, 14, 6, -2, -7],
  [-10, -5, 0, 7, 12, 18, 23, 22, 14, 6, -3, -8],
  [-12, -6, 1, 8, 13, 19, 24, 23, 15, 6, -2, -7],
  [-8, -5, 0, 7, 12, 18, 22, 21, 14, 6, -2, -8],
  [-10, -6, 0, 7, 12, 18, 22, 21, 14, 5, -3, -7],
  [-8, -5, 1, 8, 13, 18, 23, 22, 14, 6, -2, -8],
  [-11, -6, 0, 7, 12, 18, 22, 21, 14, 6, -2, -7],
  [-10, -5, 0, 7, 12, 18, 22, 21, 13, 6, -3, -8],
  [-12, -6, 0, 7, 12, 17, 21, null, null, null, null, null],
  [null, null, null, null, null, null, null, null, null, null, null, null],
  [null, null, null, null, null, 18, 22, 21, 14, 6, -2, -8],
  [-11, -5, 0, 7, 12, 18, 23, 22, 14, 6, -2, -7],
  [-9, -5, 1, 8, 13, 18, 23, 22, 14, 6, -2, -7],
  [-8, -5, 0, 7, 12, 18, 23, 22, 14, 6, -3, -8],
  [-10, -6, 0, 7, 12, 18, 22, 21, 14, 6, -2, -7],
  [-8, -5, 1, 7, 12, 18, 22, 21, 13, 6, -1, -6],
  [-7, -4, 0, 8, 12, 18, 22, 21, 14, 6, -2, -7],
  [-9, -5, 0, 7, 13, 19, 23, 22, 14, 6, -2, -8],
  [-9, -5, 1, 7, 12, 18, 23, 22, 14, 6, -3, -7],
  [-10, -6, 0, 7, 12, 18, 22, 21, 14, 6, -2, -7],
  [-9, -5, 0, 8, 12, 18, 22, 21, 14, 6, -2, -7],
  [-8, -5, 1, 7, 12, 18, 22, 21, 14, 5, -3, -8],
  [-11, -6, 0, 7, 13, 19, 23, 22, 14, 6, -2, -7],
  [-9, -5, 0, 7, 12, 18, 23, 22, 14, 6, -3, -8],
  [-11, -6, 1, 8, 13, 19, 24, 23, 15, 6, -2, -7],
  [-9, -5, 0, 7, 12, 18, 23, 22, 14, 6, -1, -6],
  [-8, -4, 1, 8, 13, 19, 23, 22, 14, 6, -2, -7],
  [-10, -5, 0, 7, 13, 19, 23, 22, 14, 6, -2, -7]
];
const dew295 = [
  [10, 12, 18, 21, 20, 14, 7, -2, -7],
  [-11, -6, 0, 8, 12, 18, 22, 21, 14, 6, -2, -8],
  [-12, -6, 1, 7, 12, 17, 21, 20, 13, 6, -3, -7],
  [-12, -5, 0, 7, 13, 18, 21, 20, 14, 5, -2, -8],
  [-11, -6, 0, 8, 12, 17, 21, 20, 13, 6, -2, -7],
  [-11, -5, 1, 7, 12, 18, 21, 20, 14, 6, -3, -8],
  [-13, -6, 0, 7, 12, 18, 22, 26, 14, 6, -2, -6],
  [-4, -2, 1, 8, 13, 18, 22, 21, 14, 6, -2, -7],
  [-10, -5, 0, 7, 12, 18, 23, 22, 14, 6, -3, -8],
  [-12, -6, 1, 8, 13, 19, 24, 23, 15, 6, -2, -7],
  [-8, -5, 0, 7, 12, 18, 22, 21, 14, 6, -2, -8],
  [-10, -6, 0, 7, 12, 18, 22, 21, 14, 5, -3, -7],
  [-8, -5, 1, 8, 13, 18, 23, 22, 14, 6, -2, -8],
  [-11, -6, 0, 7, 12, 18, 22, 21, 14, 6, -2, -7],
  [-10, -5, 0, 7, 12, null, null, null, null, null, null, null],
  [null, null, null, null, null, null, null, 20, 13, 6, -2, -7],
  [-8, -5, 0, 7, 12, null, null, null, null, null, null, null],
  [null, null, null, null, null, 18, 22, 21, 14, 6, -2, -8],
  [-11, -5, 0, 7, 12, 18, 23, 22, 14, 6, -2, -7],
  [-9, -5, 1, 8, 13, 18, 23, 22, 14, 6, -2, -7],
  [-8, -5, 0, 7, 12, 18, 23, 22, 14, 6, -3, -8],
  [-10, -6, 0, 7, 12, 18, 22, 21, 14, 6, -2, -7],
  [-8, -5, 1, 7, 12, 18, 22, 21, 13, 6, -1, -6],
  [-7, -4, 0, 8, 12, 18, 22, 21, 14, 6, -2, -7],
  [-9, -5, 0, 7, 13, 19, 23, 22, 14, 6, -2, -8],
  [-9, -5, 1, 7, 12, 18, 23, 22, 14, 6, -3, -7],
  [-10, -6, 0, 7, 12, 18, 22, 21, 14, 6, -2, -7],
  [-9, -5, 0, 8, 12, 18, 22, 21, 14, 6, -2, -7],
  [-8, -5, 1, 7, 12, 18, 22, 21, 14, 5, -3, -8],
  [-11, -6, 0, 7, 13, 19, 23, 22, 14, 6, -2, -7],
  [-9, -5, 0, 7, 12, 18, 23, 22, 14, 6, -3, -8],
  [-11, -6, 1, 8, 13, 19, 24, 23, 15, 6, -2, -7],
  [-9, -5, 0, 7, 12, 18, 23, 22, 14, 6, -1, -6],
  [-8, -4, 1, 8, 13, 19, 23, 22, 14, 6, -2, -7],
  [-10, -5, 0, 7, 13, 19, 23, 22, 14, 6, -2, -7]
];

// Axis ticks and legend texts
const yearTicksA = [1982, 1986, 1990, 1994, 1998, 2002, 2006, 2010, 2014];
const yearTicksB = [1983, 1987, 1991, 1995, 1999, 2003, 2007, 2011, 2015];
const ticksFive = [-5, 0, 5, 10, 15, 20, 25, 30, 35, 40];
const ticksTen = [-10, 0, 10, 20, 30, 40];
const airLegend = ["1.6 m", "12.5 m", "29.5 m"];
const extremesLegend = ["maximum", "minimum", "mean"];
const soilLegend = ["-0.02 m", "-0.10 m", "-0.50 m", "-1.00 m"];
const dewLegend = ["1.6 m", "12.3 m", "29.5 m"];
const yNames = ["air T", "1.6m air T", "soil T", "dew T"];
const titleText = "Plot of Soil temperature_Lyaer1-4 from 1981 to 2016";

// ---------------------------------------------------------------------------
// Drawing
// ---------------------------------------------------------------------------
function toPoints(rows, firstYear, firstMonth) {
  const pts = [];
  rows.forEach((row, r) => {
    const m0 = r === 0 ? firstMonth : 0;
    row.forEach((v, j) => pts.push({ date: new Date(firstYear + r, m0 + j, 15), v }));
  });
  return pts;
}
function yearDate(y) {
  const yr = Math.floor(y);
  const a = new Date(yr, 0, 1), b = new Date(yr + 1, 0, 1);
  return new Date(+a + (y - yr) * (b - a));
}

const FONT = "DejaVu Sans";
const FS = 13.3;
const X0 = 65, X1 = 1033;
const domainA = [yearDate(1981.56), yearDate(2016.96)];
const domainB = [yearDate(1982.27), yearDate(2016.98)];

// line styles: `width` is the stroke in the plot, legend samples stay thin
const sYellow = { stroke: "#d6d664", width: 8.5, opacity: 0.85 };
const sGreen = { stroke: "#3d9a2e", width: 6, opacity: 0.9 };
const sDots = { stroke: "#062006", width: 3.2, opacity: 0.8, dash: "1,1.4" };

const panels = [
  {
    top: 16.7, bottom: 257.3, yDomain: [-5, 40], yTicks: ticksFive,
    xDomain: domainA, xTicks: yearTicksA, name: yNames[0], labelPos: [31.5, 139],
    series: [
      { rows: air16, start: [1981, 6], style: sYellow },
      { rows: air125, start: [1981, 6], style: sGreen },
      { rows: air295, start: [1981, 6], style: sDots }
    ],
    legend: { labels: airLegend, box: [708.3, 24.3, 320, 26.4], lineX: [716.7, 823, 938], textX: [752.7, 858, 972.7] }
  },
  {
    top: 306.7, bottom: 547.3, yDomain: [-10, 45], yTicks: ticksTen,
    xDomain: domainA, xTicks: yearTicksA, name: yNames[1], labelPos: [24, 427],
    series: [
      { rows: airMax, start: [1981, 6], style: { stroke: "#dcdc78", width: 7.5, opacity: 0.85 } },
      { rows: airMin, start: [1981, 6], style: { stroke: "#43a843", width: 6.5, opacity: 0.85 } },
      { rows: airMean, start: [1981, 6], style: { stroke: "#1e1e1e", width: 4, opacity: 0.85 } }
    ],
    legend: { labels: extremesLegend, box: [671.7, 314, 356, 25.3], lineX: [680, 818, 953], textX: [716, 850.7, 982.3] }
  },
  {
    top: 595, bottom: 836.7, yDomain: [-5, 40], yTicks: ticksFive,
    xDomain: domainA, xTicks: yearTicksA, name: yNames[2], labelPos: [31.5, 717],
    series: [
      { rows: soil002, start: [1981, 6], style: { stroke: "#c8c820", width: 2.4, opacity: 0.9 } },
      { rows: soil010, start: [1981, 6], style: { stroke: "#2c9a1c", width: 1.8, opacity: 0.85 } },
      { rows: soil050, start: [1981, 6], style: { stroke: "#b864b8", width: 1.1, opacity: 0.8 } },
      { rows: soil100, start: [1981, 6], style: { stroke: "#2a2a2a", width: 1.6, opacity: 0.9 } }
    ],
    legend: { labels: soilLegend, box: [566, 603.3, 462, 25], lineX: [575, 695, 813, 933], textX: [609, 729, 847, 967] }
  },
  {
    top: 885, bottom: 1125.7, yDomain: [-17, 40], yTicks: ticksTen,
    xDomain: domainB, xTicks: yearTicksB, name: yNames[3], labelPos: [23.5, 1006],
    series: [
      { rows: dew16, start: [1982, 3], style: { stroke: "#e0e08a", width: 8.5, opacity: 0.9 } },
      { rows: dew123, start: [1982, 3], style: { stroke: "#46a232", width: 6, opacity: 0.9 } },
      { rows: dew295, start: [1982, 3], style: { stroke: "#062006", width: 3.4, opacity: 0.8, dash: "1,1.3" } }
    ],
    legend: { labels: dewLegend, box: [704, 891.7, 324, 25], lineX: [713, 823, 938], textX: [752.7, 858, 972.7] }
  }
];

const svg = d3.select("#chart");
svg.append("rect").attr("width", 1027).attr("height", 1145).attr("fill", "#fff");

panels.forEach((p, i) => {
  const x = d3.scaleTime().domain(p.xDomain).range([X0, X1]);
  const y = d3.scaleLinear().domain(p.yDomain).range([p.bottom, p.top]);
  const g = svg.append("g");
  const clipId = "clip" + i;
  svg.append("clipPath").attr("id", clipId)
    .append("rect").attr("x", X0).attr("y", p.top).attr("width", X1 - X0).attr("height", p.bottom - p.top);

  // dotted grid
  const grid = g.append("g").attr("stroke", "#000").attr("stroke-width", 0.7)
    .attr("stroke-dasharray", "1,2.2").attr("opacity", 0.75);
  grid.selectAll("line.gx").data(p.xTicks).join("line").attr("class", "gx")
    .attr("x1", d => x(new Date(d, 0, 1))).attr("x2", d => x(new Date(d, 0, 1)))
    .attr("y1", p.top).attr("y2", p.bottom);
  grid.selectAll("line.gy").data(p.yTicks).join("line").attr("class", "gy")
    .attr("x1", X0).attr("x2", X1).attr("y1", d => y(d)).attr("y2", d => y(d));

  // freezing line
  g.append("line").attr("x1", X0).attr("x2", X1).attr("y1", y(0)).attr("y2", y(0))
    .attr("stroke", "#f03c3c").attr("stroke-width", 1).attr("opacity", 0.55)
    .attr("stroke-dasharray", "2,1");

  // series
  const line = d3.line().defined(d => d.v !== null)
    .x(d => x(d.date)).y(d => y(d.v));
  const dataG = g.append("g").attr("clip-path", `url(#${clipId})`);
  p.series.forEach(s => {
    const pts = toPoints(s.rows, s.start[0], s.start[1]);
    dataG.append("path").datum(pts).attr("d", line)
      .attr("fill", "none").attr("stroke", s.style.stroke)
      .attr("stroke-width", s.style.width).attr("opacity", s.style.opacity)
      .attr("stroke-linejoin", "round").attr("stroke-linecap", "round")
      .attr("stroke-dasharray", s.style.dash || null);
  });

  // axes with inward ticks
  const styleAxis = sel => {
    sel.attr("font-family", FONT).attr("font-size", FS).attr("color", "#000");
    sel.select(".domain").attr("stroke-width", 1.2);
  };
  g.append("g").attr("transform", `translate(${X0},0)`)
    .call(d3.axisLeft(y).tickValues(p.yTicks).tickSizeInner(-4).tickSizeOuter(0)
      .tickPadding(6).tickFormat(d3.format("d")))
    .call(styleAxis);
  g.append("g").attr("transform", `translate(0,${p.bottom})`)
    .call(d3.axisBottom(x).tickValues(p.xTicks.map(d => new Date(d, 0, 1)))
      .tickSizeInner(-4).tickSizeOuter(0).tickPadding(5).tickFormat(d3.timeFormat("%Y")))
    .call(styleAxis);
  g.append("g").attr("transform", `translate(0,${p.top})`)
    .call(d3.axisTop(x).tickValues(p.xTicks.map(d => new Date(d, 0, 1)))
      .tickSizeInner(-4).tickSizeOuter(0).tickFormat(""))
    .call(styleAxis);

  // y label with superscript degree ring
  const t = svg.append("text")
    .attr("transform", `translate(${p.labelPos[0]},${p.labelPos[1]}) rotate(-90)`)
    .attr("text-anchor", "middle").attr("font-family", FONT).attr("font-size", FS).attr("fill", "#000");
  t.append("tspan").text(p.name + " (");
  t.append("tspan").attr("font-size", 9.5).attr("dy", -5).attr("dx", 1.5).text("\u2218");
  t.append("tspan").attr("dy", 5).text("C)");

  // legend
  const L = p.legend;
  const lg = svg.append("g").attr("font-family", FONT).attr("font-size", FS);
  lg.append("rect").attr("x", L.box[0]).attr("y", L.box[1]).attr("width", L.box[2]).attr("height", L.box[3])
    .attr("fill", "#fff").attr("stroke", "#000").attr("stroke-width", 1);
  const cy = L.box[1] + L.box[3] / 2;
  L.labels.forEach((lab, k) => {
    const st = p.series[k].style;
    lg.append("line").attr("x1", L.lineX[k]).attr("x2", L.lineX[k] + 20).attr("y1", cy).attr("y2", cy)
      .attr("stroke", st.stroke).attr("stroke-width", Math.min(st.width, 1.2)).attr("opacity", st.opacity)
      .attr("stroke-dasharray", st.dash || null);
    lg.append("text").attr("x", L.textX[k]).attr("y", cy + 4.8).attr("fill", "#000").text(lab);
  });
});

// title above the soil panel
svg.append("text").attr("x", 548.5).attr("y", 589).attr("text-anchor", "middle")
  .attr("font-family", FONT).attr("font-size", 17).attr("fill", "#808080").text(titleText);
</script>
</body>
</html>
